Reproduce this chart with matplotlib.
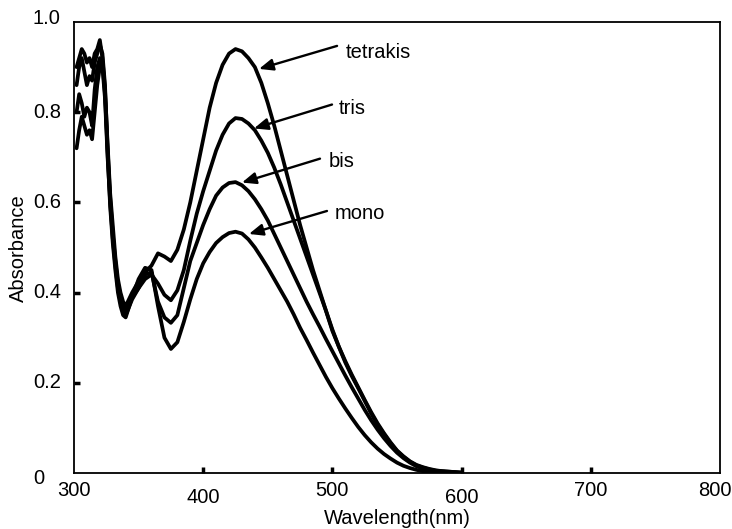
import matplotlib
matplotlib.use('Agg')
import matplotlib.pyplot as plt

plt.rcParams['font.family'] = ['Liberation Sans', 'DejaVu Sans']

# ---------------- data ----------------
wavelength = [302, 304, 306, 308, 310, 312, 314, 316, 318, 320,
              322, 324, 326, 328, 330, 332, 334, 336, 338, 340,
              345, 350, 355, 360, 365, 370, 375, 380, 385, 390,
              395, 400, 405, 410, 415, 420, 425, 430, 435, 440,
              445, 450, 455, 460, 465, 470, 475, 480, 485, 490,
              495, 500, 505, 510, 515, 520, 525, 530, 535, 540,
              545, 550, 555, 560, 565, 570, 575, 580, 585, 590,
              595, 600]

tetrakis = [0.90, 0.92, 0.94, 0.93, 0.91, 0.92, 0.90, 0.93, 0.94, 0.96,
            0.92, 0.85, 0.73, 0.62, 0.55, 0.48, 0.43, 0.40, 0.38, 0.37,
            0.40, 0.425, 0.445, 0.46, 0.487, 0.48, 0.47, 0.495, 0.54, 0.60,
            0.67, 0.74, 0.81, 0.865, 0.905, 0.93, 0.94, 0.935, 0.92, 0.90,
            0.865, 0.82, 0.77, 0.715, 0.66, 0.605, 0.55, 0.50, 0.45, 0.405,
            0.36, 0.315, 0.28, 0.248, 0.218, 0.19, 0.162, 0.135, 0.11, 0.088,
            0.068, 0.05, 0.037, 0.026, 0.018, 0.013, 0.009, 0.006, 0.004, 0.003,
            0.002, 0.001]

tris = [0.86, 0.90, 0.92, 0.89, 0.86, 0.88, 0.87, 0.91, 0.93, 0.95,
        0.93, 0.86, 0.72, 0.61, 0.53, 0.47, 0.42, 0.39, 0.37, 0.36,
        0.39, 0.41, 0.43, 0.44, 0.42, 0.395, 0.383, 0.405, 0.45, 0.515,
        0.575, 0.625, 0.67, 0.715, 0.75, 0.775, 0.787, 0.785, 0.775, 0.76,
        0.737, 0.71, 0.677, 0.64, 0.60, 0.56, 0.52, 0.48, 0.44, 0.40,
        0.36, 0.318, 0.28, 0.245, 0.215, 0.188, 0.16, 0.132, 0.107, 0.086,
        0.066, 0.049, 0.036, 0.025, 0.017, 0.012, 0.008, 0.005, 0.004, 0.003,
        0.002, 0.001]

bis = [0.80, 0.84, 0.82, 0.79, 0.81, 0.80, 0.77, 0.85, 0.90, 0.92,
       0.90, 0.83, 0.70, 0.60, 0.52, 0.46, 0.41, 0.38, 0.36, 0.35,
       0.385, 0.41, 0.44, 0.445, 0.38, 0.345, 0.333, 0.35, 0.41, 0.47,
       0.51, 0.55, 0.585, 0.615, 0.633, 0.643, 0.645, 0.638, 0.625, 0.607,
       0.585, 0.56, 0.53, 0.50, 0.47, 0.44, 0.41, 0.38, 0.352, 0.325,
       0.297, 0.27, 0.243, 0.216, 0.19, 0.165, 0.14, 0.117, 0.096, 0.077,
       0.06, 0.045, 0.033, 0.023, 0.015, 0.01, 0.006, 0.004, 0.003, 0.002,
       0.001, 0.0]

mono = [0.72, 0.76, 0.79, 0.77, 0.75, 0.76, 0.74, 0.80, 0.86, 0.90,
        0.91, 0.84, 0.71, 0.59, 0.51, 0.45, 0.40, 0.37, 0.35, 0.345,
        0.39, 0.43, 0.455, 0.45, 0.37, 0.30, 0.275, 0.29, 0.335, 0.385,
        0.43, 0.465, 0.49, 0.51, 0.523, 0.532, 0.535, 0.531, 0.518, 0.50,
        0.478, 0.455, 0.43, 0.405, 0.38, 0.352, 0.322, 0.295, 0.267, 0.24,
        0.213, 0.188, 0.165, 0.143, 0.122, 0.102, 0.084, 0.068, 0.054, 0.042,
        0.032, 0.023, 0.016, 0.011, 0.007, 0.004, 0.002, 0.001, 0.0, 0.0,
        0.0, 0.0]

series_names = ['tetrakis', 'tris', 'bis', 'mono']
series_values = [tetrakis, tris, bis, mono]

x_tick_labels = ['300', '400', '500', '600', '700', '800']
x_tick_values = [300, 400, 500, 600, 700, 800]
y_tick_labels = ['0', '0.2', '0.4', '0.6', '0.8', '1.0']
y_tick_values = [0.0, 0.2, 0.4, 0.6, 0.8, 1.0]

# annotation anchors (data coords): text start, arrow tail, arrow head
label_text_pos = [(510.3, 0.92), (505.1, 0.795), (496.8, 0.678), (501.5, 0.5625)]
arrow_tail = [(503.6, 0.947), (499.7, 0.817), (490.4, 0.697), (495.8, 0.581)]
arrow_head = [(443.2, 0.896), (439.3, 0.764), (430.0, 0.644), (435.4, 0.530)]

# ---------------- figure ----------------
W, H = 732, 529
fig = plt.figure(figsize=(W / 100, H / 100), dpi=100)
L, R, T, B = 74, 720, 22, 473
ax = fig.add_axes([L / W, 1 - B / H, (R - L) / W, (B - T) / H])

for vals in series_values:
    ax.plot(wavelength, vals, color='black', lw=2.7,
            solid_joinstyle='round', solid_capstyle='round')

ax.set_xlim(300, 800)
ax.set_ylim(0, 1.0)

for sp in ax.spines.values():
    sp.set_linewidth(1.3)
    sp.set_color('black')

ax.set_xticks(x_tick_values[1:-1])
ax.set_yticks(y_tick_values[1:-1])
ax.tick_params(axis='both', direction='in', length=4, width=2.5,
               labelbottom=False, labelleft=False, color='black')

FS = 14.5
for v, lab in zip(x_tick_values, x_tick_labels):
    dy = -15 if lab in ('400', '600') else -8
    dx = -5 if lab == '800' else 0
    ax.annotate(lab, xy=(v, 0), xycoords=('data', 'axes fraction'),
                xytext=(dx, dy), textcoords='offset pixels',
                ha='center', va='top', fontsize=FS)

for v, lab in zip(y_tick_values, y_tick_labels):
    dy = 0
    if lab == '1.0':
        dy = 4
    if lab == '0':
        dy = -6
    ax.annotate(lab, xy=(0, v), xycoords=('axes fraction', 'data'),
                xytext=(33 - L, dy), textcoords='offset pixels',
                ha='left', va='center', fontsize=FS)

fig.text((L + R) / 2 / W, 1 - 519 / H, 'Wavelength(nm)', ha='center',
         va='center', fontsize=FS)
fig.text(18 / W, 1 - 248 / H, 'Absorbance', ha='center', va='center',
         rotation=90, fontsize=FS)

for name, tp, tail, head in zip(series_names, label_text_pos, arrow_tail, arrow_head):
    ax.annotate('', xy=head, xytext=tail,
                arrowprops=dict(arrowstyle='-|>,head_length=0.6,head_width=0.25',
                                color='black', lw=1.7, mutation_scale=14,
                                shrinkA=0, shrinkB=0))
    ax.text(tp[0], tp[1], name, ha='left', va='baseline', fontsize=FS)

fig.savefig('out.png', dpi=100)
